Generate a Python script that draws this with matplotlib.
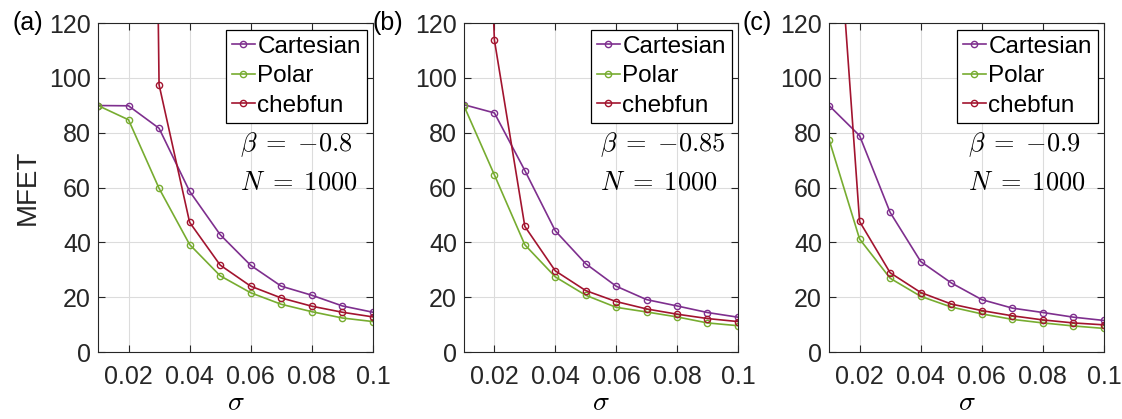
import matplotlib
matplotlib.use('Agg')
import matplotlib.pyplot as plt
import numpy as np

plt.rcParams['font.family'] = ['Liberation Sans', 'DejaVu Sans']
plt.rcParams['mathtext.fontset'] = 'cm'

sigma = [0.01, 0.02, 0.03, 0.04, 0.05, 0.06, 0.07, 0.08, 0.09, 0.1]

# panel (a), beta = -0.8
cart_a = [89.9, 89.8, 81.6, 58.6, 42.8, 31.6, 24.0, 20.7, 16.8, 14.5]
polar_a = [89.9, 84.7, 59.7, 39.2, 27.8, 21.6, 17.4, 14.7, 12.4, 11.1]
cheb_a = [5000, 1000, 97.5, 47.3, 31.7, 24.0, 19.7, 16.7, 14.5, 12.8]

# panel (b), beta = -0.85
cart_b = [90.2, 87.2, 66.2, 44.2, 32.2, 24.0, 19.1, 16.8, 14.4, 12.7]
polar_b = [89.8, 64.6, 39.1, 27.4, 20.7, 16.3, 14.6, 12.8, 10.6, 9.6]
cheb_b = [400, 113.8, 45.8, 29.6, 22.4, 18.4, 15.7, 13.8, 12.2, 11.1]

# panel (c), beta = -0.9
cart_c = [89.9, 78.9, 50.9, 33.0, 25.2, 19.1, 16.0, 14.4, 12.7, 11.5]
polar_c = [77.5, 41.2, 26.9, 20.3, 16.4, 13.9, 11.9, 10.6, 9.5, 8.6]
cheb_c = [204, 47.6, 28.9, 21.7, 17.5, 15.1, 13.2, 11.7, 10.6, 9.9]

betas = ['-0.8', '-0.85', '-0.9']
panel_labels = ['(a)', '(b)', '(c)']
xticks = [0.02, 0.04, 0.06, 0.08, 0.1]
xticklabels = ['0.02', '0.04', '0.06', '0.08', '0.1']
yticks = [0, 20, 40, 60, 80, 100, 120]

c_cart = '#7E2F8E'
c_polar = '#77AC30'
c_cheb = '#A2142F'
dark = '#262626'

fig = plt.figure(figsize=(11.22, 4.19), dpi=100)
lefts = [0.0873, 0.4135, 0.7389]
widths = [0.2451, 0.2442, 0.2451]
data = [(cart_a, polar_a, cheb_a), (cart_b, polar_b, cheb_b), (cart_c, polar_c, cheb_c)]
text_x = [0.0566, 0.0547, 0.0555]
label_x = [13, 373, 743]

for i in range(3):
    ax = fig.add_axes([lefts[i], 0.1599, widths[i], 0.7852])
    cart, polar, cheb = data[i]
    kw = dict(marker='o', markersize=4.5, markerfacecolor='none', lw=1.2, mew=1.0)
    ax.plot(sigma, cart, color=c_cart, label='Cartesian', **kw)
    ax.plot(sigma, polar, color=c_polar, label='Polar', **kw)
    ax.plot(sigma, cheb, color=c_cheb, label='chebfun', **kw)
    ax.set_xlim(0.01, 0.1)
    ax.set_ylim(0, 120)
    ax.set_xticks(xticks)
    ax.set_xticklabels(xticklabels)
    ax.set_yticks(yticks)
    ax.grid(True, color='#dcdcdc', lw=0.8)
    ax.set_axisbelow(True)
    ax.tick_params(direction='in', top=True, right=True, labelsize=18,
                   colors=dark, length=5, width=0.8)
    ax.tick_params(axis='x', pad=9)
    ax.tick_params(axis='y', pad=5)
    for s in ax.spines.values():
        s.set_color(dark)
        s.set_linewidth(0.8)
    leg = ax.legend(loc='upper right', bbox_to_anchor=(0.978, 0.979), fontsize=17.5,
                    fancybox=False, edgecolor='black', framealpha=1,
                    handlelength=0.95, handletextpad=0.1, labelspacing=0.3,
                    borderpad=0.25, borderaxespad=0, numpoints=1)
    leg.get_frame().set_linewidth(0.9)
    ax.text(text_x[i], 75.5, r'$\beta\;=\;$$' + betas[i] + '$',
            fontsize=19, va='center', ha='left')
    ax.text(text_x[i], 62, r'$N\;=\;1000$', fontsize=19, va='center', ha='left')
    ax.set_xlabel(r'$\sigma$', fontsize=20, labelpad=1)
    if i == 0:
        ax.set_ylabel('MFET', fontsize=20, color=dark, labelpad=6)
    fig.text(label_x[i] / 1122, 1 - 23 / 419, panel_labels[i], fontsize=18,
             va='center', ha='left', color='black')

fig.savefig('out.png', dpi=100)
